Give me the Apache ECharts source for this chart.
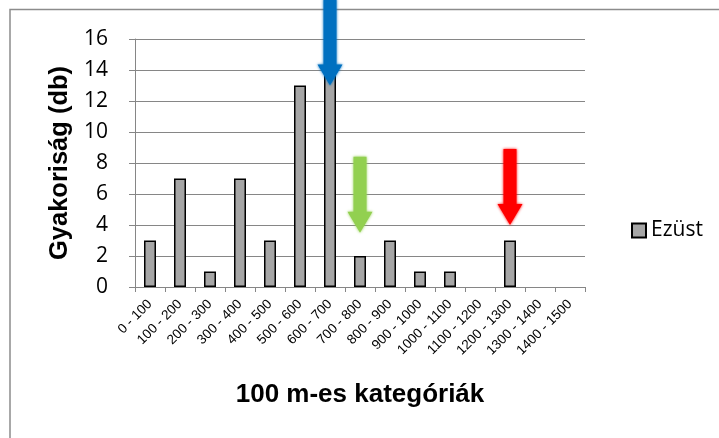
<!DOCTYPE html>
<html><head><meta charset="utf-8">
<script src="https://cdn.jsdelivr.net/npm/echarts@6/dist/echarts.min.js"></script>
<style>html,body{margin:0;padding:0;background:#fff}#c{width:719px;height:438px}</style>
</head><body><div id="c"></div>
<script>
const categories = ['0 - 100','100 - 200','200 - 300','300 - 400','400 - 500','500 - 600','600 - 700','700 - 800','800 - 900','900 - 1000','1000 - 1100','1100 - 1200','1200 - 1300','1300 - 1400','1400 - 1500'];
const values = [3,7,1,7,3,13,14,2,3,1,1,0,3,0,0];
const seriesName = 'Ezüst';
const yTicks = [0,2,4,6,8,10,12,14,16];
// arrows: category index, value of shaft top, value of tip
const arrowCats = [6, 7, 12];
const arrowTops = [18.6, 8.4, 8.9];
const arrowTips = [13.0, 3.5, 4.0];
const arrowColors = ['#0070C0', '#92D050', '#FF0000'];

const chart = echarts.init(document.getElementById('c'));
chart.setOption({
  animation: false,
  graphic: [{type:'rect', shape:{x:10,y:9.5,width:720,height:440}, style:{fill:'none', stroke:'#8c8c8c', lineWidth:1.5}, z:-1}],
  grid: {left:135, right:134, top:39, bottom:151},
  legend: {data:[seriesName], left:626, top:215, icon:'rect', itemWidth:14, itemHeight:14,
    textStyle:{fontFamily:'Open Sans', fontSize:21, color:'#000'}},
  xAxis: {type:'category', data:categories, boundaryGap:true,
    name:'100 m-es kategóriák', nameLocation:'middle', nameGap:95,
    nameTextStyle:{fontFamily:'Liberation Sans', fontWeight:'bold', fontSize:26, color:'#000'},
    axisLine:{lineStyle:{color:'#868686', width:1}},
    axisTick:{show:true, alignWithLabel:false, length:5, lineStyle:{color:'#868686'}},
    axisLabel:{interval:0, rotate:45, fontFamily:'Liberation Sans', fontSize:13.5, color:'#000', margin:15}},
  yAxis: {type:'value', min:0, max:16, interval:2,
    name:'Gyakoriság (db)', nameLocation:'middle', nameGap:62,
    nameTextStyle:{fontFamily:'Liberation Sans', fontWeight:'bold', fontSize:25.5, color:'#000'},
    axisLine:{show:true, lineStyle:{color:'#868686', width:1}},
    axisTick:{show:true, length:6, lineStyle:{color:'#868686'}},
    axisLabel:{fontFamily:'Open Sans', fontSize:21, color:'#000', margin:27,
      formatter: v => yTicks.includes(v) ? String(v) : ''},
    splitLine:{lineStyle:{color:'#868686', width:1}}},
  series: [
    {name:seriesName, type:'bar', data:values.map(v => v === 0 ? '-' : v), barWidth:12,
      itemStyle:{color:'#A6A6A6', borderColor:'#000', borderWidth:1.5}},
    {name:'arrows', type:'custom', clip:false, z:10,
      data: arrowCats.map((c,i)=>[c, arrowTops[i], arrowTips[i], i]),
      renderItem: function(params, api){
        const c = api.value(0), i = api.value(3);
        const top = api.coord([c, api.value(1)]);
        const tip = api.coord([c, api.value(2)]);
        const x = tip[0], sw = 6.5, hw = 12.5, hl = 21;
        return {type:'polygon', shape:{points:[
          [x-sw, top[1]],[x+sw, top[1]],[x+sw, tip[1]-hl],[x+hw, tip[1]-hl],
          [x, tip[1]],[x-hw, tip[1]-hl],[x-sw, tip[1]-hl]]},
          style:{fill:arrowColors[i], shadowBlur:3, shadowColor:arrowColors[i]}};
      }}
  ]
});
</script></body></html>
